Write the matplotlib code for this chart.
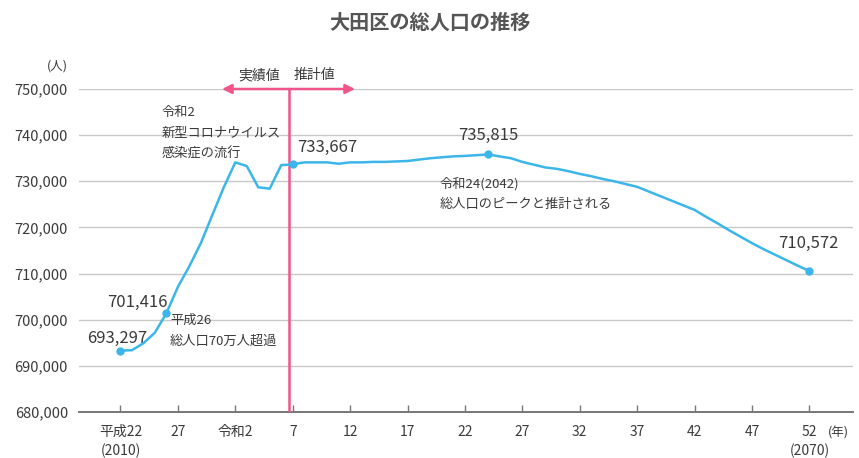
import numpy as np
import matplotlib
matplotlib.use("Agg")
import matplotlib.pyplot as plt

plt.rcParams['font.family'] = ['Noto Sans CJK JP', 'DejaVu Sans']

# population (people), Jan 1 each year; 2010-2025 actual, 2025- projected
years = list(range(2010, 2071))
population = [
    693297, 693400, 694900, 697200, 701416, 707100, 711600, 716600,
    722700, 728700, 734100, 733300, 728700, 728400, 733500, 733667,
    734100, 734100, 734100, 733800, 734100, 734100, 734200, 734200,
    734300, 734400, 734700, 735000, 735200, 735400, 735500, 735650,
    735815, 735400, 735000, 734200, 733600, 733000, 732700, 732200,
    731600, 731100, 730500, 730000, 729400, 728800, 727800, 726800,
    725800, 724800, 723800, 722300, 720900, 719400, 718000, 716600,
    715300, 714100, 712900, 711700, 710572,
]

tick_years = list(range(2010, 2071, 5))
tick_labels = ['平成22\n(2010)', '27', '令和2', '7', '12', '17', '22',
               '27', '32', '37', '42', '47', '52\n(2070)']

highlight_years = [2010, 2014, 2025, 2042, 2070]
split_year = 2024.65

line_color = '#3cb6ea'
pink = '#f0558c'
text_color = '#3a3a3a'

fig = plt.figure(figsize=(8.59, 4.58), dpi=100)
ax = fig.add_axes([0.092, 0.1004, 0.901, 0.7053])

ax.set_xlim(2006.39, 2073.8)
ax.set_ylim(680000, 750000)

ax.set_yticks(range(680000, 750001, 10000))
ax.set_yticklabels([f'{v:,}' for v in range(680000, 750001, 10000)],
                   fontsize=10.5, color=text_color)
ax.tick_params(axis='y', length=0, pad=8)
ax.grid(axis='y', color='#c8c8c8', linewidth=1.0)
ax.set_axisbelow(True)

ax.set_xticks(tick_years)
ax.set_xticklabels(tick_labels, fontsize=10, color=text_color, linespacing=1.45)
ax.tick_params(axis='x', direction='in', length=5, width=1.0, color='#777777', pad=9)

for s in ['top', 'right', 'left']:
    ax.spines[s].set_visible(False)
ax.spines['bottom'].set_color('#777777')
ax.spines['bottom'].set_linewidth(1.4)

# actual / projection divider
ax.axvline(split_year, color=pink, linewidth=1.8, zorder=3)
ax.annotate('', xy=(2018.84, 750000), xytext=(split_year, 750000),
            arrowprops=dict(arrowstyle='-|>', color=pink, lw=1.8,
                            mutation_scale=14, shrinkA=0, shrinkB=0), zorder=4)
ax.annotate('', xy=(2030.43, 750000), xytext=(split_year, 750000),
            arrowprops=dict(arrowstyle='-|>', color=pink, lw=1.8,
                            mutation_scale=14, shrinkA=0, shrinkB=0), zorder=4)
ax.text(split_year - 0.8, 751500, '実績値', ha='right', va='bottom',
        fontsize=10, color=text_color)
ax.text(split_year + 0.4, 751500, '推計値', ha='left', va='bottom',
        fontsize=10, color=text_color)

ax.plot(years, population, color=line_color, linewidth=1.8, zorder=5)
hv = [population[years.index(y)] for y in highlight_years]
ax.plot(highlight_years, hv, 'o', color=line_color, markersize=5, zorder=6)

num_kw = dict(fontsize=12, color=text_color, ha='center', va='center')
ax.text(2009.7, 693297 + 2700, f'{hv[0]:,}', **num_kw)
ax.text(2011.5, 701416 + 2400, f'{hv[1]:,}', **num_kw)
ax.text(2028.0, 733667 + 3600, f'{hv[2]:,}', **num_kw)
ax.text(2042.0, 735815 + 4100, f'{hv[3]:,}', **num_kw)
ax.text(2069.9, 710572 + 6000, f'{hv[4]:,}', **num_kw)

note_kw = dict(fontsize=9.5, color=text_color, ha='left', va='center',
               linespacing=1.75)
ax.text(2014.3, 697600, '平成26\n総人口70万人超過', **note_kw)
ax.text(2013.6, 740400, '令和2\n新型コロナウイルス\n感染症の流行', **note_kw)
ax.text(2037.8, 727200, '令和24(2042)\n総人口のピークと推計される', **note_kw)

ax.text(2071.6, 675450, '(年)', fontsize=9, color=text_color,
        ha='left', va='center', clip_on=False)
fig.text(57 / 859, 1 - 66 / 458, '(人)', fontsize=9, color=text_color,
         ha='center', va='center')

fig.text(0.5, 1 - 22 / 458, '大田区の総人口の推移', fontsize=14.5,
         fontweight='bold', color='#555555', ha='center', va='center')

fig.savefig('out.png', dpi=100)
